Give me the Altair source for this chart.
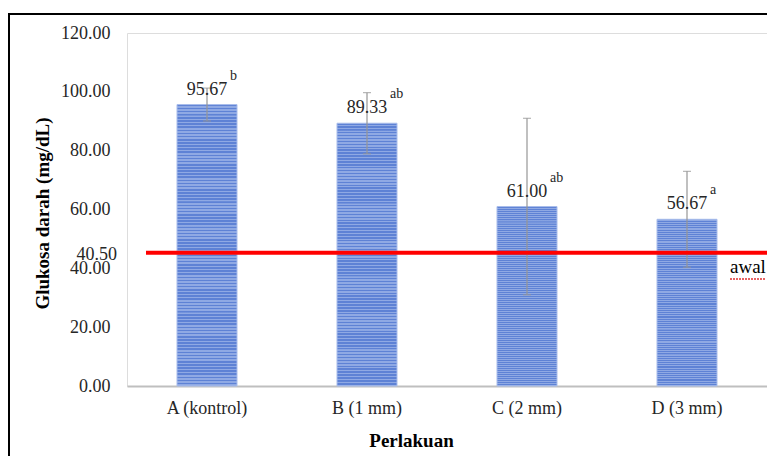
import altair as alt
import pandas as pd

categories = ["A (kontrol)", "B (1 mm)", "C (2 mm)", "D (3 mm)"]
means = [95.67, 89.33, 61.00, 56.67]
errors = [5.6, 10.4, 30.0, 16.3]
letters = ["b", "ab", "ab", "a"]
y_ticks = [0, 20, 40, 60, 80, 100, 120]
baseline_value = 45.3
baseline_label = "40.50"
baseline_name = "awal"

df = pd.DataFrame({
    "cat": categories,
    "mean": means,
    "lo": [m - e for m, e in zip(means, errors)],
    "hi": [m + e for m, e in zip(means, errors)],
    "label": [f"{m:.2f}" for m in means],
    "sig": letters,
})
base_df = pd.DataFrame({"v": [baseline_value], "lab": [baseline_label], "name": [baseline_name]})

FONT = "Liberation Serif"

# striped fill
stops = []
n = 90
for i in range(n):
    a = i / n
    b = (i + 0.5) / n
    stops.append(alt.GradientStop(offset=a, color="#5E82D5"))
    stops.append(alt.GradientStop(offset=b - 0.0001, color="#5E82D5"))
    stops.append(alt.GradientStop(offset=b, color="#8FA9E4"))
    stops.append(alt.GradientStop(offset=(i + 1) / n - 0.0001, color="#8FA9E4"))
grad = alt.LinearGradient(gradient="linear", x1=0, x2=0, y1=0, y2=1, stops=stops)

x_enc = alt.X(
    "cat:N", sort=categories,
    scale=alt.Scale(paddingInner=0.625, paddingOuter=0.3125),
    axis=alt.Axis(
        title="Perlakuan", labelAngle=0, ticks=False, labelPadding=13,
        domainColor="#BFBFBF", domainWidth=2,
        labelFont=FONT, labelFontSize=18, labelColor="#262626",
        titleFont=FONT, titleFontSize=19, titleFontWeight="bold", titleColor="#000000",
        titleX=284, titleY=54, titleAlign="center", titleBaseline="middle",
    ),
)
y_scale = alt.Scale(domain=[0, 120], nice=False)
y_enc = alt.Y(
    "mean:Q", scale=y_scale,
    axis=alt.Axis(
        title="Glukosa darah (mg/dL)", values=y_ticks, format=".2f",
        domain=False, ticks=False, grid=False, labelPadding=17,
        labelFont=FONT, labelFontSize=18, labelColor="#262626",
        titleFont=FONT, titleFontSize=19, titleFontWeight="bold", titleColor="#000000",
        titleX=-85, titleY=180, titleAngle=-90, titleAlign="center", titleBaseline="middle",
    ),
)

base = alt.Chart(df)
bars = base.mark_bar(color=grad, stroke="#A9BDEB", strokeWidth=1).encode(x=x_enc, y=y_enc)
err = base.mark_rule(color="#969696", strokeWidth=1.2).encode(
    x=alt.X("cat:N", sort=categories), y=alt.Y("lo:Q", scale=y_scale), y2="hi:Q")
caps_hi = base.mark_tick(color="#969696", size=8, thickness=1.2, orient="horizontal").encode(
    x=alt.X("cat:N", sort=categories), y=alt.Y("hi:Q", scale=y_scale))
caps_lo = base.mark_tick(color="#969696", size=8, thickness=1.2, orient="horizontal").encode(
    x=alt.X("cat:N", sort=categories), y=alt.Y("lo:Q", scale=y_scale))
vals = base.mark_text(font=FONT, fontSize=18, color="#262626", baseline="alphabetic", dy=-10).encode(
    x=alt.X("cat:N", sort=categories), y=alt.Y("mean:Q", scale=y_scale), text="label:N")
sigs = base.mark_text(font=FONT, fontSize=14, color="#262626", baseline="alphabetic", align="left",
                      dx=23, dy=-25).encode(
    x=alt.X("cat:N", sort=categories), y=alt.Y("mean:Q", scale=y_scale), text="sig:N")

bl = alt.Chart(base_df)
red = bl.mark_rule(color="#FF0000", strokeWidth=4).encode(
    y=alt.Y("v:Q", scale=y_scale), x=alt.value(19), x2=alt.value(646))
red_lab = bl.mark_text(font=FONT, fontSize=18, color="#262626", align="right", baseline="middle", dy=2).encode(
    y=alt.Y("v:Q", scale=y_scale), x=alt.value(-10), text="lab:N")
awal = bl.mark_text(font=FONT, fontSize=19, color="#000000", align="left", baseline="alphabetic", dy=20).encode(
    y=alt.Y("v:Q", scale=y_scale), x=alt.value(603), text="name:N")
squig = bl.mark_rule(color="#E03030", strokeWidth=1.5, strokeDash=[2, 1]).encode(
    y=alt.value(246), x=alt.value(603), x2=alt.value(639))

border_l = bl.mark_rule(color="#000000", strokeWidth=2).encode(
    x=alt.value(-118), y=alt.value(-19), y2=alt.value(440))
border_t = bl.mark_rule(color="#000000", strokeWidth=2).encode(
    x=alt.value(-119), x2=alt.value(660), y=alt.value(-19))

chart = alt.layer(
    bars, err, caps_hi, caps_lo, vals, sigs, red, red_lab, awal, squig, border_l, border_t
).properties(
    width=640, height=353,
    autosize=alt.AutoSizeParams(type="none"),
    padding={"left": 119, "top": 25, "right": 0, "bottom": 70},
).configure_view(stroke=None).configure(background="#FFFFFF")

chart.save("out.html", embed_options={"renderer": "svg", "actions": False})
